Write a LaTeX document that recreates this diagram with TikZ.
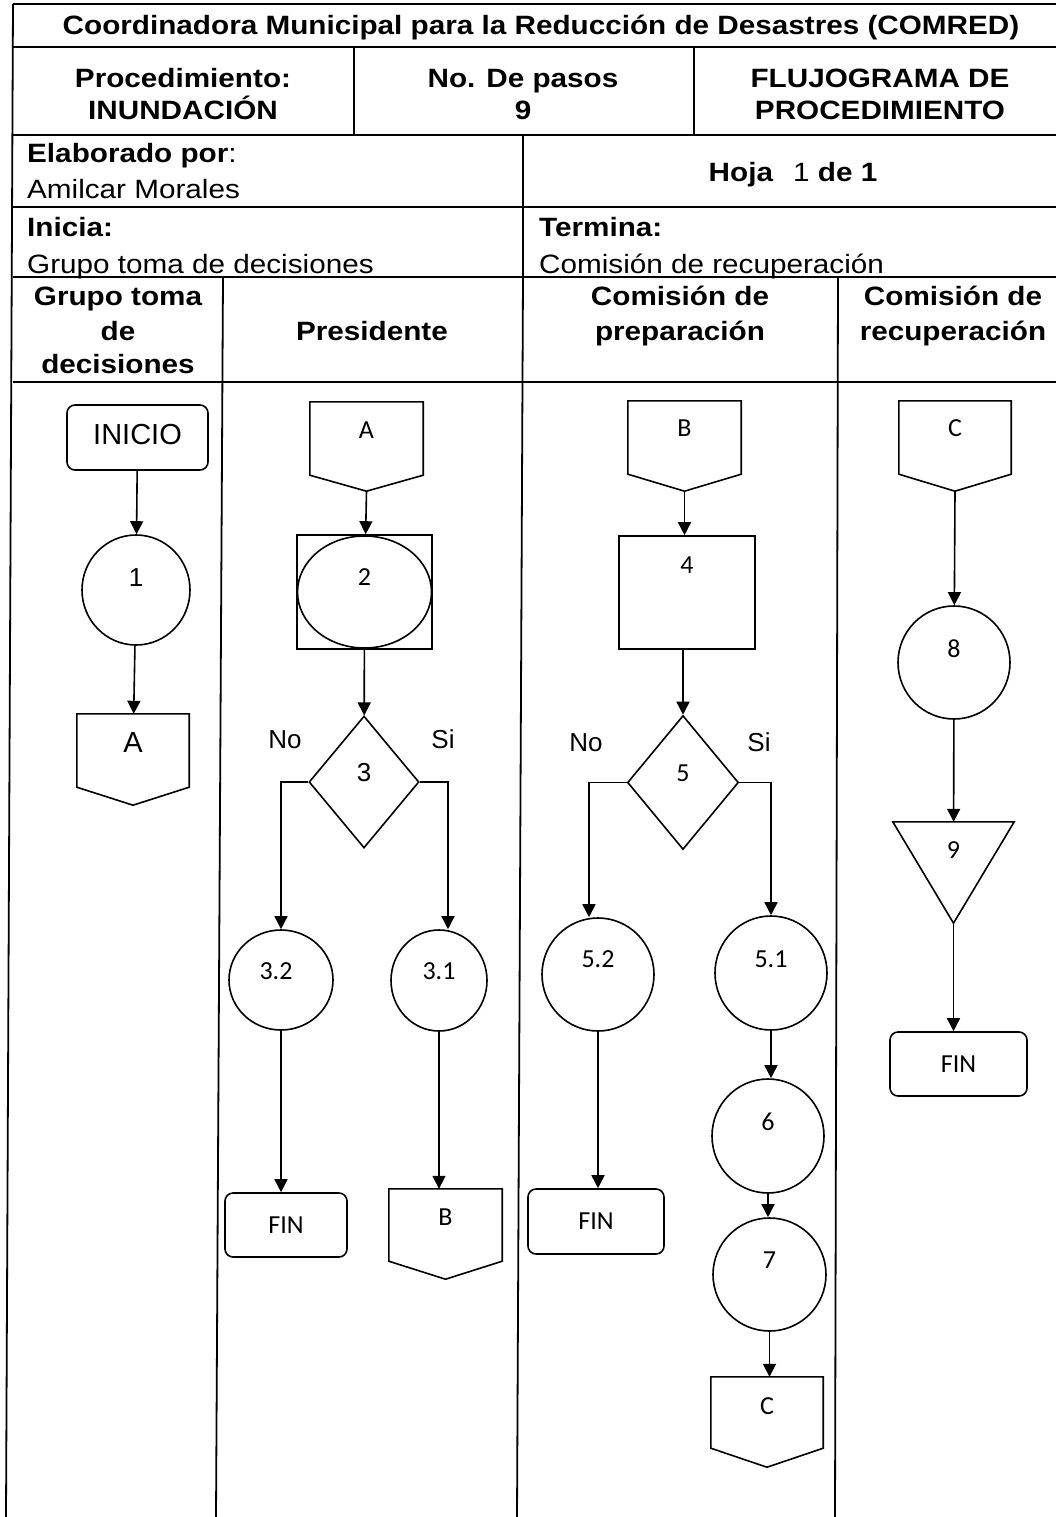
\documentclass[tikz,border=0pt]{standalone}
\usepackage{fontspec}
\setmainfont{Liberation Sans}
\newfontfamily\tabfont[FakeStretch=1.12]{Liberation Sans}
\newfontfamily\calib{Carlito}
\newfontfamily\arialf{Liberation Sans}
\usetikzlibrary{shapes.geometric,arrows.meta}
\newcommand\rz[2]{\raisebox{#1pt}{#2}}
\newcommand\offpg[2]{%
  \coordinate (#1tip) at ([yshift=-#2pt]#1.south);
  \draw[shp] (#1.north west) -- (#1.south west) -- (#1tip) -- (#1.south east) -- (#1.north east) -- cycle;}
\tikzset{
  tline/.style={line width=1.8pt},
  tab/.style={font=\tabfont\fontsize{26.5}{30}\selectfont, inner sep=0pt},
  tabb/.style={font=\tabfont\bfseries\fontsize{26.5}{30}\selectfont, inner sep=0pt},
  shp/.style={line width=1.6pt},
  cal/.style={font=\calib\fontsize{26}{30}\selectfont},
  ari/.style={font=\arialf\fontsize{26}{30}\selectfont},
  box/.style={draw, shp, inner sep=0pt},
  term/.style={box, rounded corners=8pt, cal},
  proc/.style={box, ellipse, cal},
  offnode/.style={inner sep=0pt, cal},
  dec/.style={box, diamond},
  lbl/.style={ari, inner sep=0pt, anchor=base},
  arr/.style={shp, -{Triangle[length=13pt,width=13pt]}}
}
\begin{document}
\begin{tikzpicture}[x=1pt,y=-1pt]
\useasboundingbox (0,0) rectangle (1056,1517);
% ---------- table frame ----------
\draw[tline] (13,4) -- (1056,4);
\draw[tline] (13,47) -- (1056,47);
\draw[tline] (13,135) -- (1056,135);
\draw[tline] (13,207) -- (1056,207);
\draw[tline] (13,277) -- (1056,277);
\draw[tline] (13,382) -- (1056,382);
\draw[tline] (13,4) -- (6,1517);
\draw[tline] (354,47) -- (354,135);
\draw[tline] (694,47) -- (694,135);
\draw[tline] (523,135) -- (523,277);
\draw[tline] (223,277) -- (216,1517);
\draw[tline] (523,277) -- (517,1517);
\draw[tline] (838,277) -- (835,1517);
% ---------- table texts ----------
\node[tabb, anchor=base] (title) at (541,35) {Coordinadora Municipal para la Reducción de Desastres (COMRED)};
\node[tabb, anchor=base] (proc1) at (183,88) {Procedimiento:};
\node[tabb, anchor=base] (proc2) at (183,120) {INUNDACIÓN};
\node[tabb, anchor=base] (pasos1) at (523,88) {No. De pasos};
\node[tabb, anchor=base] (pasos2) at (523,120) {9};
\node[tabb, anchor=base] (flujo1) at (880,88) {FLUJOGRAMA DE};
\node[tabb, anchor=base] (flujo2) at (880,120) {PROCEDIMIENTO};
\node[tab, anchor=base west] (elab1) at (27,163) {\textbf{Elaborado por}:};
\node[tab, anchor=base west] (elab2) at (27,198) {Amilcar Morales};
\node[tab, anchor=base] (hoja) at (793,182) {\textbf{Hoja}\hspace{20pt}1 \textbf{de 1}};
\node[tabb, anchor=base west] (ini1) at (27,236) {Inicia:};
\node[tab, anchor=base west] (ini2) at (27,273) {Grupo toma de decisiones};
\node[tabb, anchor=base west] (ter1) at (539,236) {Termina:};
\node[tab, anchor=base west] (ter2) at (539,273) {Comisión de recuperación};
\node[tabb, anchor=base] (h1a) at (118,305) {Grupo toma};
\node[tabb, anchor=base] (h1b) at (118,340) {de};
\node[tabb, anchor=base] (h1c) at (118,373) {decisiones};
\node[tabb, anchor=base] (h2) at (372,340) {Presidente};
\node[tabb, anchor=base] (h3a) at (680,305) {Comisión de};
\node[tabb, anchor=base] (h3b) at (680,340) {preparación};
\node[tabb, anchor=base] (h4a) at (953,305) {Comisión de};
\node[tabb, anchor=base] (h4b) at (953,340) {recuperación};
% ---------- lane 1 ----------
\node[term, ari, font=\arialf\fontsize{29}{30}\selectfont, minimum width=141pt, minimum height=65pt] (inicio) at (137.5,437.5) {\rz{6}{INICIO}};
\node[proc, ari, minimum width=108pt, minimum height=110pt] (c1) at (136,590) {\rz{24}{1}};
\node[offnode, ari, font=\arialf\fontsize{29}{30}\selectfont, minimum width=112pt, minimum height=73pt] (A1) at (133,750.5) {\rz{15}{A}};
\offpg{A1}{18}
% ---------- lane 2 ----------
\node[offnode, minimum width=113pt, minimum height=73pt] (A2) at (366.5,438.5) {\rz{16}{A}};
\offpg{A2}{16}
\node[box, cal, minimum width=135pt, minimum height=114pt,
  path picture={\draw[shp] (path picture bounding box.center) ellipse [x radius=67pt, y radius=56pt];}] (n2) at (364.5,592) {\rz{30}{2}};
\node[dec, ari, minimum width=110pt, minimum height=132pt] (d3) at (364,782) {\rz{20}{3}};
\node[lbl] (no3) at (285,748) {No};
\node[lbl] (si3) at (443,748) {Si};
\node[proc, minimum width=104pt, minimum height=100pt] (c32) at (281,980) {\hspace{-10pt}\rz{18}{3.2}};
\node[proc, minimum width=96pt, minimum height=101pt] (c31) at (439,980.5) {\rz{19}{3.1}};
\node[term, minimum width=122pt, minimum height=64pt] (fin2) at (286,1225) {FIN};
\node[offnode, minimum width=113pt, minimum height=72pt] (B2) at (445.5,1225) {\rz{16}{B}};
\offpg{B2}{18}
% ---------- lane 3 ----------
\node[offnode, minimum width=113pt, minimum height=73pt] (B3) at (684.5,437.5) {\rz{18}{B}};
\offpg{B3}{17}
\node[box, cal, minimum width=136pt, minimum height=113pt] (n4) at (687,592.5) {\rz{55}{4}};
\node[dec, cal, minimum width=111pt, minimum height=134pt] (d5) at (683,782.5) {\rz{19}{5}};
\node[lbl] (no5) at (586,751) {No};
\node[lbl] (si5) at (759,751) {Si};
\node[proc, minimum width=112pt, minimum height=113pt] (c52) at (598,974.5) {\rz{30}{5.2}};
\node[term, minimum width=136pt, minimum height=65pt] (fin3) at (596,1221.5) {FIN};
\node[proc, minimum width=112pt, minimum height=114pt] (c51) at (771,973) {\rz{27}{5.1}};
\node[proc, minimum width=112pt, minimum height=114pt] (c6) at (768,1136) {\rz{29}{6}};
\node[proc, minimum width=113pt, minimum height=113pt] (c7) at (769.5,1274.5) {\rz{28}{7}};
\node[offnode, minimum width=112pt, minimum height=71pt] (C3) at (767,1412.5) {\rz{13}{C}};
\offpg{C3}{19}
% ---------- lane 4 ----------
\node[offnode, minimum width=112pt, minimum height=73pt] (C4) at (955,437.5) {\rz{18}{C}};
\offpg{C4}{17}
\node[proc, minimum width=112pt, minimum height=113pt] (c8) at (954,662.5) {\rz{28}{8}};
\node[offnode, minimum width=121pt, minimum height=101pt] (t9) at (953.5,872.5) {\rz{45}{9}};
\draw[shp] (t9.north west) -- (t9.north east) -- (t9.south) -- cycle;
\node[term, minimum width=137pt, minimum height=64pt] (fin4) at (958.5,1064) {FIN};
% ---------- connectors ----------
\draw[arr] (inicio) -- (c1);
\draw[arr] (c1) -- (A1);
\draw[arr] (A2tip) -- (n2);
\draw[arr] (n2) -- (d3);
\draw[arr] (d3.west) -| (c32.north);
\draw[arr] (d3.east) -| ([xshift=9pt]c31.north);
\draw[arr] (c32.south) -- (c32.south |- fin2.north);
\draw[arr] (c31.south) -- (c31.south |- B2.north);
\draw[arr] (B3tip) -- (B3tip |- n4.north);
\draw[arr] (n4.south -| d5.north) -- (d5.north);
\draw[arr] (d5.west) -| ([xshift=-9pt]c52.north);
\draw[arr] (d5.east) -| (c51.north);
\draw[arr] (c52.south) -- (c52.south |- fin3.north);
\draw[arr] (c51.south) -- (c51.south |- c6.north);
\draw[arr] (c6.south) -- (c6.south |- c7.north);
\draw[arr] (c7.south) -- (c7.south |- C3.north);
\draw[arr] (C4tip) -- (c8);
\draw[arr] (c8) -- (t9);
\draw[arr] (t9.south) -- (t9.south |- fin4.north);
\end{tikzpicture}
\end{document}
